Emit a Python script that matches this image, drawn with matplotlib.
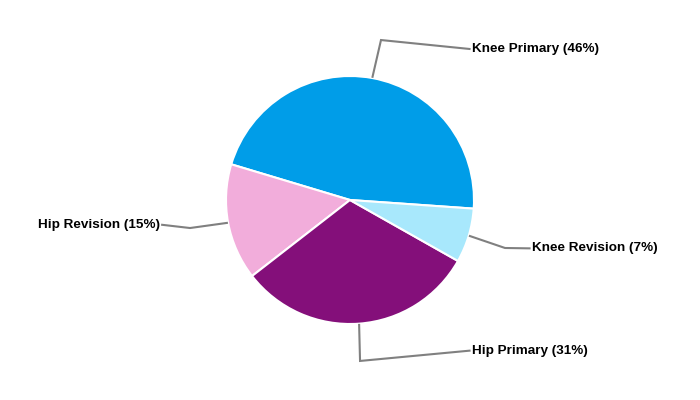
import numpy as np
import matplotlib.pyplot as plt

# procedure mix, counter-clockwise from about 3 o'clock
labels = ['Knee Primary', 'Hip Revision', 'Hip Primary', 'Knee Revision']
values = [46, 15, 31, 7]
colors = ['#009DE8', '#F2ADDB', '#840F7A', '#A8E8FC']

# elbow point and text anchor for each leader line (data units, radius = 1)
elbows = [(0.25, 1.29), (-1.29, -0.226), (0.081, -1.298), (1.25, -0.387)]
text_pos = [(0.984, 1.218), (-1.535, -0.2), (0.984, -1.215), (1.468, -0.39)]
text_ha = ['left', 'right', 'left', 'left']

fig = plt.figure(figsize=(7, 4), dpi=100)
ax = fig.add_axes([0, 0, 1, 1])

wedges, _ = ax.pie(values, colors=colors, startangle=-4, counterclock=True,
                   radius=1, wedgeprops=dict(edgecolor='white', linewidth=1.5))

for w, lab, v, el, tp, ha in zip(wedges, labels, values, elbows, text_pos, text_ha):
    mid = np.deg2rad((w.theta1 + w.theta2) / 2)
    start = (1.01 * np.cos(mid), 1.01 * np.sin(mid))
    end_x = tp[0] - 0.02 if ha == 'left' else tp[0] + 0.02
    ax.plot([start[0], el[0], end_x], [start[1], el[1], tp[1]],
            color='#808080', lw=1.5, solid_joinstyle='miter')
    ax.text(tp[0], tp[1], '%s (%d%%)' % (lab, v), ha=ha, va='center',
            fontsize=9.7, fontweight='bold', family='Liberation Sans', color='black')

ax.set_xlim(-350 / 124, 350 / 124)
ax.set_ylim(-200 / 124, 200 / 124)
ax.set_aspect('equal')
ax.axis('off')

fig.savefig('out.png', dpi=100, facecolor='white')
